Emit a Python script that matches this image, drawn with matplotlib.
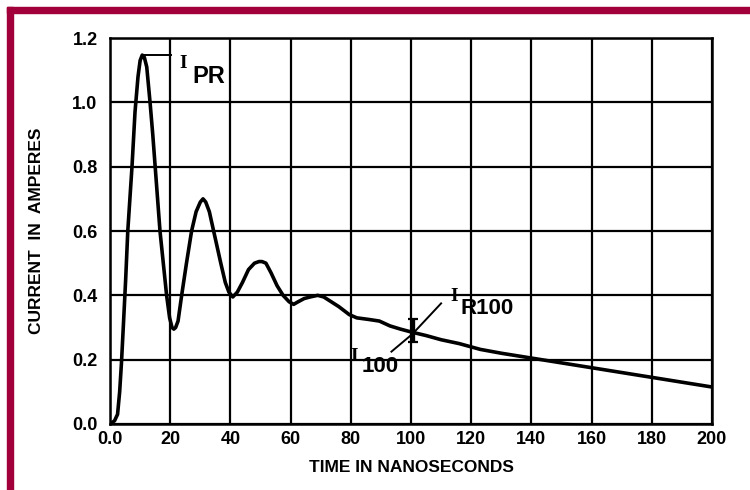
import matplotlib
matplotlib.use("Agg")
import matplotlib.pyplot as plt
from matplotlib.patches import Rectangle

# current waveform
time_ns = [0, 1.5, 2.5, 3.2, 3.8, 4.4, 5.2, 5.9, 6.6, 7.3, 8.3, 9.3, 10.0, 10.7,
           11.4, 12.2, 13.3, 14.2, 15.0, 15.8, 16.6, 17.7, 18.8, 19.8, 20.6, 21.2,
           21.8, 22.6, 23.8, 25.4, 27.1, 28.6, 30.0, 30.9, 31.8, 33.0, 34.9, 36.8,
           38.3, 39.5, 40.8, 42.3, 44.0, 46.0, 48.0, 49.5, 50.5, 51.8, 53.5, 55.5,
           57.5, 59.5, 61.0, 62.5, 64.5, 66.5, 69.0, 71.0, 73.5, 76.0, 79.5, 82.0,
           86.0, 89.5, 93.0, 96.5, 100.5, 105.0, 110.0, 116.0, 123.0, 130.0, 140.0,
           150.0, 160.0, 170.0, 180.0, 190.0, 200.0]
current_a = [0.0, 0.01, 0.03, 0.10, 0.19, 0.30, 0.45, 0.60, 0.70, 0.80, 0.97, 1.08,
             1.13, 1.147, 1.14, 1.11, 1.00, 0.90, 0.80, 0.70, 0.60, 0.50, 0.40, 0.33,
             0.30, 0.295, 0.30, 0.32, 0.40, 0.50, 0.60, 0.66, 0.69, 0.70, 0.69, 0.66,
             0.58, 0.50, 0.44, 0.41, 0.395, 0.41, 0.44, 0.48, 0.50, 0.505, 0.505,
             0.50, 0.47, 0.43, 0.40, 0.38, 0.372, 0.38, 0.39, 0.395, 0.40, 0.395,
             0.38, 0.365, 0.34, 0.33, 0.325, 0.32, 0.305, 0.295, 0.285, 0.275, 0.262,
             0.25, 0.232, 0.22, 0.205, 0.19, 0.175, 0.16, 0.145, 0.13, 0.115]

x_ticks = [0, 20, 40, 60, 80, 100, 120, 140, 160, 180, 200]
x_labels = ["0.0", "20", "40", "60", "80", "100", "120", "140", "160", "180", "200"]
y_ticks = [0.0, 0.2, 0.4, 0.6, 0.8, 1.0, 1.2]
y_labels = ["0.0", "0.2", "0.4", "0.6", "0.8", "1.0", "1.2"]

# marked points
peak_t, peak_i = 10.7, 1.147
r100_t, r100_lo, r100_hi = 100.5, 0.255, 0.325

plt.rcParams["font.family"] = ["Liberation Sans", "DejaVu Sans"]
serif = ["Liberation Serif", "DejaVu Serif"]

fig = plt.figure(figsize=(7.5, 4.9), dpi=100)
fig.patch.set_facecolor("white")
ax = fig.add_axes([0.1467, 0.1347, 0.8026, 0.7877])

# maroon frame along top and left
red = "#A2003A"
fig.patches.append(Rectangle((7 / 750, 0), 6 / 750, 1 - 7 / 490,
                             transform=fig.transFigure, color=red, zorder=0))
fig.patches.append(Rectangle((7 / 750, 1 - 13 / 490), 1 - 7 / 750, 6 / 490,
                             transform=fig.transFigure, color=red, zorder=0))

ax.plot(time_ns, current_a, color="black", lw=2.6, solid_capstyle="round",
        solid_joinstyle="round", zorder=3)

ax.set_xlim(0, 200)
ax.set_ylim(0, 1.2)
ax.set_xticks(x_ticks)
ax.set_xticklabels(x_labels)
ax.set_yticks(y_ticks)
ax.set_yticklabels(y_labels)
ax.tick_params(length=0, labelsize=13)
ax.tick_params(axis="x", pad=5)
ax.tick_params(axis="y", pad=9)
for lab in ax.get_xticklabels() + ax.get_yticklabels():
    lab.set_fontweight("bold")
    lab.set_fontstretch("condensed")
ax.grid(True, color="black", lw=1.6)
for s in ax.spines.values():
    s.set_linewidth(1.8)

ax.set_xlabel("TIME IN NANOSECONDS", fontsize=12.5, fontweight="bold", labelpad=9)
ax.set_ylabel("CURRENT  IN  AMPERES", fontsize=12.5, fontweight="bold", labelpad=20)

# I_PR marker
ax.plot([peak_t, 20.3], [peak_i, peak_i], color="black", lw=1.4, zorder=3)
ax.text(23.0, 1.12, "I", fontsize=14, fontweight="bold", family=serif,
        ha="left", va="center")
ax.text(27.5, 1.08, "PR", fontsize=17, fontweight="bold", ha="left", va="center")

# I_R100 / I_100 markers
ax.errorbar([r100_t], [(r100_lo + r100_hi) / 2],
            yerr=[[(r100_hi - r100_lo) / 2], [(r100_hi - r100_lo) / 2]],
            fmt="none", ecolor="black", elinewidth=2.4, capsize=3.5, capthick=1.6, zorder=4)
ax.plot([r100_t, 110.0], [0.28, 0.375], color="black", lw=1.4, zorder=3)
ax.plot([r100_t, 93.5], [0.28, 0.225], color="black", lw=1.4, zorder=3)
ax.text(113.0, 0.395, "I", fontsize=14, fontweight="bold", family=serif,
        ha="left", va="center")
ax.text(116.5, 0.36, "R100", fontsize=16, fontweight="bold", ha="left", va="center")
ax.text(79.8, 0.21, "I", fontsize=14, fontweight="bold", family=serif,
        ha="left", va="center")
ax.text(83.5, 0.18, "100", fontsize=16, fontweight="bold", ha="left", va="center")

fig.savefig("out.png", dpi=100)
